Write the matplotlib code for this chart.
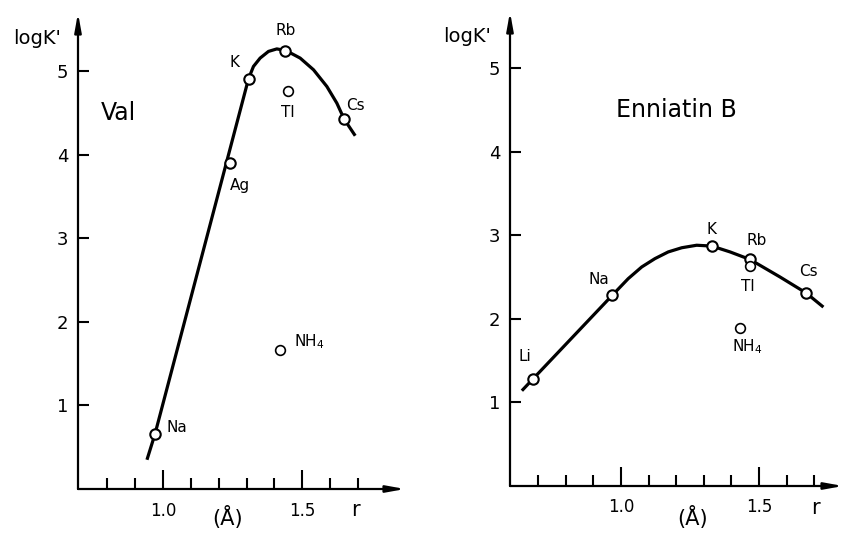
import matplotlib
matplotlib.use("Agg")
import matplotlib.pyplot as plt
from matplotlib.ticker import FixedLocator

plt.rcParams['font.family'] = ['DejaVu Sans']

# ---------------- data: Valinomycin ----------------
val_ions = ["Na", "Ag", "K", "Rb", "Tl", "Cs", "NH$_4$"]
val_r = [0.97, 1.24, 1.31, 1.44, 1.45, 1.65, 1.42]
val_logk = [0.66, 3.90, 4.91, 5.25, 4.77, 4.43, 1.66]
val_on_curve = [True, True, True, True, False, True, False]
val_curve_r = [0.942, 0.971, 1.307, 1.325, 1.349, 1.379, 1.409, 1.442, 1.493,
               1.541, 1.589, 1.625, 1.651, 1.691]
val_curve_logk = [0.35, 0.66, 4.91, 5.06, 5.16, 5.24, 5.27, 5.25, 5.16,
                  5.02, 4.82, 4.62, 4.43, 4.23]

# ---------------- data: Enniatin B ----------------
enn_ions = ["Li", "Na", "K", "Rb", "Tl", "Cs", "NH$_4$"]
enn_r = [0.681, 0.968, 1.329, 1.467, 1.467, 1.670, 1.43]
enn_logk = [1.28, 2.28, 2.87, 2.71, 2.63, 2.31, 1.89]
enn_on_curve = [True, True, True, True, False, True, False]
enn_curve_r = [0.641, 0.681, 0.968, 1.026, 1.075, 1.123, 1.171, 1.220, 1.274,
               1.329, 1.395, 1.467, 1.576, 1.670, 1.733]
enn_curve_logk = [1.14, 1.28, 2.28, 2.48, 2.62, 2.72, 2.80, 2.85, 2.88,
                  2.87, 2.80, 2.71, 2.50, 2.31, 2.14]

y_ticks = [1, 2, 3, 4, 5]
x_major = [1.0, 1.5]
x_major_labels = ["1.0", "1.5"]

W, H = 845, 533
fig = plt.figure(figsize=(W / 100, H / 100), dpi=100)


def px_box(x0, x1, ybot, ytop):
    return [x0 / W, (H - ybot) / H, (x1 - x0) / W, (ybot - ytop) / H]


def setup(ax, xlim, ylim, minor):
    ax.set_xlim(*xlim)
    ax.set_ylim(*ylim)
    for s in ax.spines.values():
        s.set_visible(False)
    ax.patch.set_alpha(0)
    # axis lines with arrows
    for tip in [(1, 0), (0, 1)]:
        ax.annotate('', xy=tip, xytext=(0, 0), xycoords='axes fraction',
                    arrowprops=dict(arrowstyle='-|>,head_length=1.1,head_width=0.2',
                                    color='k', lw=1.6, shrinkA=0, shrinkB=0),
                    annotation_clip=False)
    ax.set_yticks(y_ticks)
    ax.set_yticklabels([str(v) for v in y_ticks])
    ax.set_xticks(x_major)
    ax.set_xticklabels(x_major_labels)
    ax.xaxis.set_minor_locator(FixedLocator(minor))
    ax.tick_params(axis='y', direction='in', length=8, width=1.5, pad=7,
                   labelsize=13)
    ax.tick_params(axis='x', which='major', direction='in', length=14,
                   width=1.5, pad=9, labelsize=12)
    ax.tick_params(axis='x', which='minor', direction='in', length=8,
                   width=1.5)


def draw(ax, ions, r, lk, onc, cr, clk, offsets):
    ax.plot(cr, clk, color='k', lw=2.3, solid_capstyle='butt',
            solid_joinstyle='round', zorder=2)
    for name, x, y, oc, off in zip(ions, r, lk, onc, offsets):
        ax.plot([x], [y], marker='o', ms=7.5 if oc else 7, mfc='white',
                mec='k', mew=1.5 if oc else 1.2, zorder=3)
        ax.annotate(name, xy=(x, y), xytext=off, textcoords='offset pixels',
                    ha='center', va='center', fontsize=11)


# left panel
axL = fig.add_axes(px_box(78, 405, 489, 13))
setup(axL, (0.694, 1.870), (0, 5.70),
      [0.8, 0.9, 1.1, 1.2, 1.3, 1.4, 1.6, 1.7])
draw(axL, val_ions, val_r, val_logk, val_on_curve, val_curve_r,
     val_curve_logk,
     [(22, 6), (10, -22), (-15, 16), (0, 20), (0, -22), (12, 14), (29, 9)])

# right panel
axR = fig.add_axes(px_box(510, 843, 486, 12))
setup(axR, (0.598, 1.804), (0, 5.67),
      [0.7, 0.8, 0.9, 1.1, 1.2, 1.3, 1.4, 1.6, 1.7])
draw(axR, enn_ions, enn_r, enn_logk, enn_on_curve, enn_curve_r,
     enn_curve_logk,
     [(-8, 22), (-13, 16), (0, 17), (7, 19), (-2, -20), (2, 21), (8, -19)])


def ftext(x, y, s, **kw):
    fig.text(x / W, 1 - y / H, s, ha='center', va='center', **kw)


ftext(37, 38, "logK'", fontsize=14)
ftext(467, 37, "logK'", fontsize=14)
ftext(118, 113, "Val", fontsize=17)
ftext(676, 110, "Enniatin B", fontsize=17)
ftext(228, 518, "(Å)", fontsize=15)
ftext(693, 518, "(Å)", fontsize=15)
ftext(355, 510, "r", fontsize=15)
ftext(815, 508, "r", fontsize=15)

fig.savefig("out.png", dpi=100)
